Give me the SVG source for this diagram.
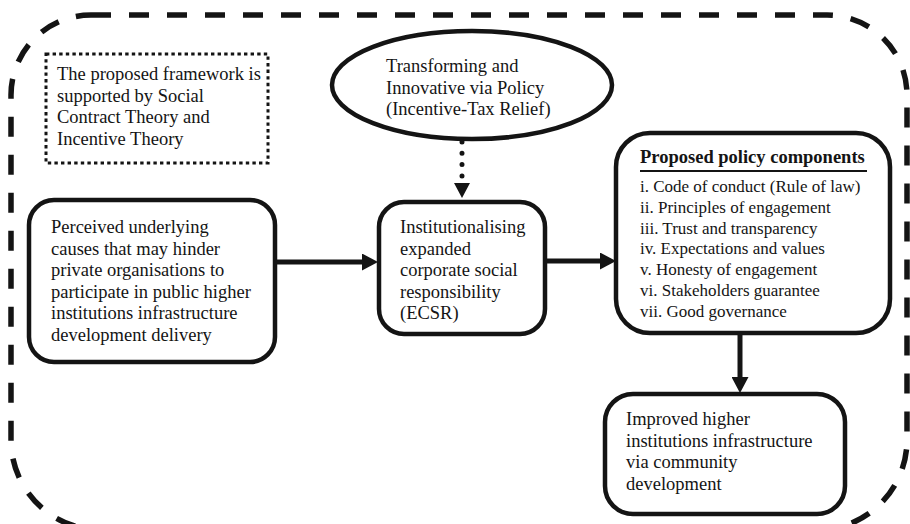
<svg xmlns="http://www.w3.org/2000/svg" width="910" height="524" viewBox="0 0 910 524">
<style>
text{font-family:"Liberation Serif","Times New Roman",serif;font-size:18.5px;fill:#141414}
.li{font-size:17px}
.hd{font-weight:bold}
.box{fill:#fff;stroke:#141414;stroke-width:4.5}
.conn{stroke:#141414;stroke-width:5;fill:none}
</style>
<defs>
<marker id="ah" viewBox="0 0 16 17" refX="0" refY="8.5" markerWidth="16" markerHeight="17" markerUnits="userSpaceOnUse" orient="auto">
<path d="M0,0 L16,8.5 L0,17 Z" fill="#141414"/>
</marker>
</defs>
<rect width="910" height="524" fill="#fff"/>
<path id="frame" d="M91,15 H827 A80,80 0 0 1 907,95 V440 A90,90 0 0 1 817,530 H101 A90,90 0 0 1 11,440 V95 A80,80 0 0 1 91,15 Z" fill="none" stroke="#141414" stroke-width="5.5" stroke-dasharray="20 18"/>
<g id="theory">
<rect x="46" y="54" width="222" height="109" fill="none" stroke="#141414" stroke-width="3" stroke-dasharray="3.4 3.2"/>
<text x="57" y="80">The proposed framework is</text>
<text x="57" y="101.7">supported by Social</text>
<text x="57" y="123.3">Contract Theory and</text>
<text x="57" y="145">Incentive Theory</text>
</g>
<g id="policy-incentive">
<ellipse cx="472" cy="85" rx="140" ry="54" class="box"/>
<text x="386" y="72">Transforming and</text>
<text x="386" y="93.5">Innovative via Policy</text>
<text x="386" y="115">(Incentive-Tax Relief)</text>
</g>
<g id="causes">
<rect x="29" y="200" width="246" height="162" rx="25" class="box" stroke-width="4"/>
<text x="51" y="233">Perceived underlying</text>
<text x="51" y="254.6">causes that may hinder</text>
<text x="51" y="276.2">private organisations to</text>
<text x="51" y="297.8">participate in public higher</text>
<text x="51" y="319.4">institutions infrastructure</text>
<text x="51" y="341">development delivery</text>
</g>
<g id="ecsr">
<rect x="379" y="202" width="166" height="132" rx="25" class="box"/>
<text x="400" y="233">Institutionalising</text>
<text x="400" y="254.6">expanded</text>
<text x="400" y="276.2">corporate social</text>
<text x="400" y="297.8">responsibility</text>
<text x="400" y="319.4">(ECSR)</text>
</g>
<g id="components">
<rect x="616" y="133" width="274" height="200" rx="34" class="box"/>
<text x="640" y="163" class="hd">Proposed policy components</text>
<line x1="640" y1="171" x2="867" y2="171" stroke="#141414" stroke-width="2"/>
<text x="640" y="192" class="li">i. Code of conduct (Rule of law)</text>
<text x="640" y="212.8" class="li">ii. Principles of engagement</text>
<text x="640" y="233.6" class="li">iii. Trust and transparency</text>
<text x="640" y="254.4" class="li">iv. Expectations and values</text>
<text x="640" y="275.2" class="li">v. Honesty of engagement</text>
<text x="640" y="296" class="li">vi. Stakeholders guarantee</text>
<text x="640" y="316.8" class="li">vii. Good governance</text>
</g>
<g id="improved">
<rect x="605" y="394" width="240" height="120" rx="28" class="box" stroke-width="6"/>
<text x="626" y="425">Improved higher</text>
<text x="626" y="446.5">institutions infrastructure</text>
<text x="626" y="468">via community</text>
<text x="626" y="489.5">development</text>
</g>
<g id="connectors">
<line x1="275" y1="262" x2="362" y2="262" class="conn" marker-end="url(#ah)"/>
<line x1="545" y1="261" x2="600" y2="261" class="conn" marker-end="url(#ah)"/>
<line x1="740" y1="333" x2="740" y2="377" class="conn" marker-end="url(#ah)"/>
<line x1="462" y1="142" x2="462" y2="183" stroke="#141414" stroke-width="5" stroke-linecap="round" stroke-dasharray="0 11.3" fill="none"/>
<path d="M454,183 L470,183 L462,198 Z" fill="#141414"/>
</g>
</svg>
